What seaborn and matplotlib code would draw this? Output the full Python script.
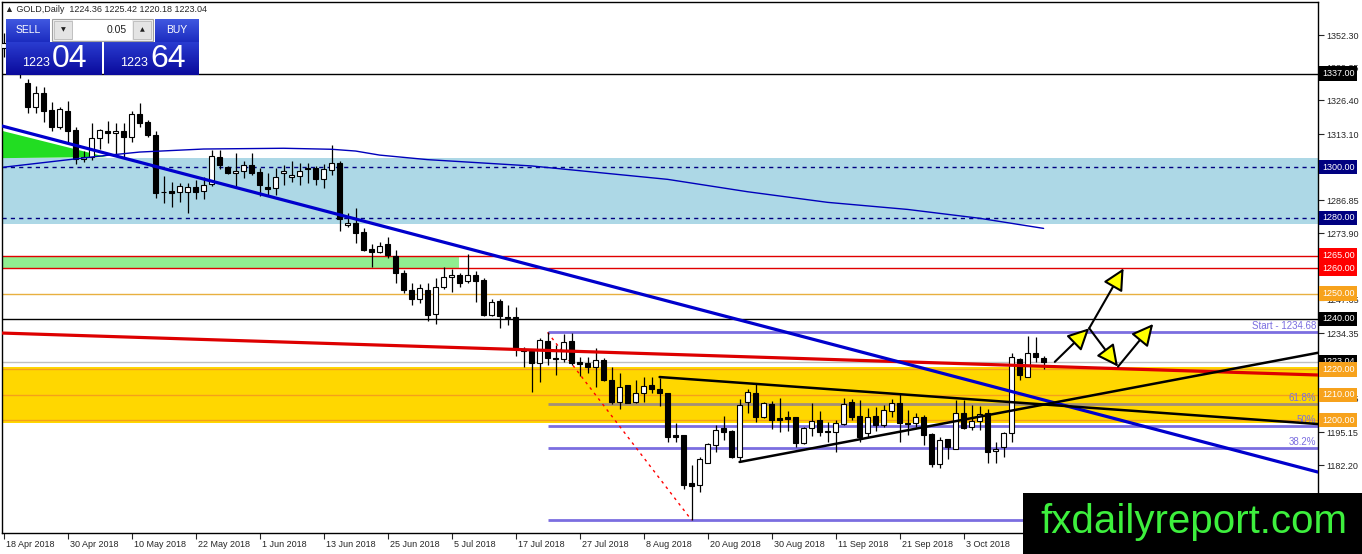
import numpy as np
import pandas as pd
import matplotlib
matplotlib.use("Agg")
import matplotlib.pyplot as plt
import matplotlib.transforms as mtransforms
from matplotlib.patches import Rectangle, Polygon
from matplotlib.colors import LinearSegmentedColormap
import seaborn as sns

W, H = 1362, 554

# daily GOLD candles, one per weekday from 18 Apr 2018 to 17 Oct 2018
opens = [1347.0, 1349.0, 1345.0, 1333.4, 1323.9, 1329.5, 1322.6, 1316.0, 1322.1, 1314.7,
         1303.1, 1303.9, 1311.4, 1314.3, 1313.4, 1314.3, 1312.1, 1321.1, 1318.0, 1312.7,
         1290.1, 1290.6, 1290.3, 1290.3, 1292.3, 1290.7, 1293.4, 1303.9, 1300.0, 1297.6,
         1298.5, 1300.9, 1298.0, 1292.1, 1291.6, 1297.6, 1296.0, 1296.5, 1299.6, 1299.8,
         1295.2, 1298.9, 1301.8, 1277.0, 1277.8, 1274.2, 1267.6, 1266.6, 1269.5, 1264.9,
         1258.3, 1251.4, 1247.8, 1251.4, 1241.8, 1252.5, 1256.5, 1257.4, 1255.1, 1257.4,
         1255.4, 1241.6, 1247.2, 1240.6, 1240.6, 1227.7, 1227.4, 1222.6, 1231.4, 1224.7,
         1224.0, 1231.4, 1222.8, 1222.6, 1221.1, 1223.7, 1215.8, 1207.3, 1213.8, 1207.3,
         1210.8, 1213.8, 1212.1, 1210.6, 1194.0, 1194.1, 1175.0, 1174.3, 1183.1, 1190.1,
         1196.7, 1195.8, 1185.2, 1207.3, 1210.8, 1201.1, 1206.3, 1200.7, 1201.1, 1201.1,
         1191.0, 1196.7, 1200.0, 1195.8, 1195.4, 1198.4, 1207.0, 1201.6, 1194.8, 1201.6,
         1198.0, 1203.7, 1206.9, 1198.7, 1198.7, 1201.1, 1194.5, 1182.6, 1192.4, 1188.4,
         1202.7, 1197.4, 1199.7, 1202.7, 1187.7, 1189.4, 1194.7, 1224.0, 1217.1, 1226.6,
         1224.36]
highs = [1353.0, 1352.0, 1347.5, 1335.0, 1332.1, 1331.9, 1325.9, 1323.7, 1326.3, 1316.0,
         1306.5, 1317.6, 1315.2, 1318.4, 1317.6, 1317.6, 1322.4, 1325.5, 1318.7, 1314.5,
         1296.5, 1294.0, 1293.9, 1293.6, 1294.9, 1296.3, 1306.8, 1306.8, 1300.4, 1305.8,
         1302.6, 1305.8, 1299.6, 1297.6, 1299.6, 1300.9, 1302.6, 1301.5, 1301.8, 1300.5,
         1301.3, 1308.8, 1302.6, 1281.8, 1283.8, 1275.8, 1269.5, 1270.5, 1272.3, 1267.2,
         1259.3, 1254.1, 1253.7, 1254.1, 1256.1, 1260.7, 1259.6, 1258.3, 1265.7, 1259.1,
         1256.0, 1247.8, 1247.8, 1245.5, 1244.6, 1228.8, 1228.0, 1232.3, 1234.68, 1229.7,
         1234.0, 1234.3, 1224.8, 1224.8, 1228.4, 1224.4, 1220.9, 1218.5, 1214.0, 1215.8,
         1217.1, 1217.1, 1216.6, 1210.8, 1198.7, 1194.2, 1182.2, 1185.2, 1191.0, 1198.0,
         1201.6, 1196.0, 1208.2, 1212.1, 1214.2, 1207.2, 1207.6, 1208.6, 1203.7, 1201.3,
         1197.4, 1206.9, 1203.7, 1199.3, 1200.0, 1208.6, 1208.2, 1207.9, 1204.6, 1205.0,
         1205.9, 1208.2, 1210.8, 1203.9, 1202.9, 1202.0, 1195.0, 1193.4, 1192.6, 1207.9,
         1207.9, 1205.9, 1205.5, 1204.2, 1191.4, 1195.4, 1226.4, 1224.5, 1233.2, 1232.9,
         1225.42]
lows = [1343.5, 1341.0, 1335.2, 1321.3, 1321.6, 1318.0, 1314.4, 1315.0, 1310.1, 1301.3,
        1302.0, 1302.9, 1307.1, 1309.7, 1305.2, 1303.9, 1310.1, 1316.0, 1312.1, 1287.7,
        1286.0, 1284.4, 1286.4, 1281.8, 1287.3, 1287.3, 1292.6, 1299.2, 1297.2, 1292.3,
        1295.6, 1297.0, 1288.6, 1289.0, 1289.0, 1293.0, 1294.3, 1293.0, 1293.6, 1293.0,
        1291.6, 1297.0, 1274.9, 1276.5, 1269.9, 1267.0, 1260.6, 1266.2, 1264.0, 1254.3,
        1250.1, 1245.5, 1246.2, 1239.3, 1238.0, 1251.7, 1250.8, 1252.5, 1254.1, 1246.8,
        1241.2, 1241.2, 1236.3, 1237.6, 1225.4, 1220.9, 1211.2, 1215.2, 1221.8, 1217.8,
        1223.1, 1221.8, 1217.4, 1218.7, 1213.2, 1215.6, 1206.3, 1204.2, 1206.6, 1206.6,
        1207.2, 1210.6, 1205.5, 1191.4, 1191.4, 1172.6, 1160.37, 1171.6, 1182.9, 1187.4,
        1192.1, 1184.8, 1183.5, 1202.9, 1199.3, 1200.7, 1196.3, 1195.4, 1195.8, 1189.4,
        1190.5, 1193.7, 1193.7, 1191.4, 1187.4, 1198.0, 1200.0, 1191.4, 1193.2, 1195.8,
        1197.4, 1201.1, 1191.4, 1194.1, 1197.4, 1190.1, 1181.5, 1180.9, 1184.5, 1188.4,
        1196.3, 1196.0, 1196.0, 1183.1, 1183.1, 1185.5, 1191.4, 1215.8, 1217.0, 1223.1,
        1220.18]
closes = [1349.0, 1345.0, 1337.5, 1323.9, 1329.5, 1322.4, 1316.0, 1322.9, 1314.4, 1303.1,
          1304.2, 1311.4, 1314.7, 1313.4, 1314.3, 1312.1, 1321.1, 1317.6, 1312.7, 1289.9,
          1290.0, 1289.9, 1292.6, 1292.3, 1290.3, 1293.0, 1304.4, 1300.9, 1297.6, 1298.5,
          1300.8, 1297.6, 1293.0, 1291.4, 1296.0, 1298.5, 1296.9, 1298.5, 1299.2, 1295.2,
          1299.2, 1301.6, 1279.4, 1277.8, 1274.1, 1267.2, 1266.6, 1269.0, 1265.3, 1258.3,
          1251.4, 1247.8, 1252.3, 1241.6, 1252.5, 1256.5, 1257.4, 1254.3, 1257.4, 1255.1,
          1241.6, 1246.8, 1241.2, 1240.4, 1228.0, 1227.4, 1222.4, 1231.6, 1224.4, 1224.3,
          1231.0, 1222.4, 1222.3, 1221.1, 1223.7, 1215.8, 1207.3, 1213.2, 1206.9, 1210.8,
          1213.4, 1212.1, 1210.8, 1193.4, 1193.4, 1174.3, 1174.0, 1184.5, 1190.5, 1196.0,
          1195.4, 1185.2, 1205.9, 1211.2, 1201.1, 1206.6, 1200.0, 1200.0, 1200.5, 1191.0,
          1196.7, 1199.7, 1195.4, 1195.2, 1198.7, 1206.2, 1201.3, 1193.4, 1201.1, 1198.0,
          1203.9, 1206.9, 1199.0, 1198.4, 1201.1, 1194.1, 1182.6, 1192.1, 1189.4, 1202.7,
          1196.7, 1199.7, 1202.4, 1187.5, 1188.4, 1194.7, 1224.8, 1217.8, 1226.7, 1224.8,
          1223.04]

date_ticks = [0, 8, 16, 24, 32, 40, 48, 56, 64, 72, 80, 88, 96, 104, 112, 120]
date_labels = ['18 Apr 2018', '30 Apr 2018', '10 May 2018', '22 May 2018', '1 Jun 2018',
               '13 Jun 2018', '25 Jun 2018', '5 Jul 2018', '17 Jul 2018', '27 Jul 2018',
               '8 Aug 2018', '20 Aug 2018', '30 Aug 2018', '11 Sep 2018', '21 Sep 2018',
               '3 Oct 2018']

# scale labels that show (the rest sit under the coloured price tags)
price_ticks = [1352.30, 1339.35, 1326.40, 1313.10, 1286.85, 1273.90,
               1247.65, 1234.35, 1208.45, 1195.15, 1182.20, 1169.25]

# slow moving average (thin blue)
ma_bars = [0, 12, 17, 25, 35, 41, 44, 47, 53, 66, 83, 93, 103, 113, 122, 130]
ma_vals = [1300.0, 1304.4, 1306.0, 1307.2, 1307.5, 1307.1, 1306.4, 1304.8, 1303.0,
           1300.5, 1295.2, 1290.3, 1286.1, 1283.3, 1279.8, 1275.8]

# hand drawn trendlines (bar, price)
blue_trend_x, blue_trend_y = [-0.2, 164.3], [1316.3, 1179.4]
red_trend_x, red_trend_y = [-0.2, 164.3], [1234.4, 1217.8]
tri_top_x, tri_top_y = [82, 164.3], [1217.0, 1198.4]
tri_bot_x, tri_bot_y = [92, 164.3], [1183.4, 1226.6]
fib_line_x, fib_line_y = [68, 86], [1234.68, 1160.37]
green_tri_x = [-0.1, -0.1, 12.9]
green_tri_y = [1314.3, 1303.6, 1304.0]

fib_start = 68
fib_levels = [1234.68, 1206.29, 1197.53, 1188.76, 1160.37]
fib_texts = ['Start - 1234.68', '61.8%', '50%', '38.2%', '']

# horizontal levels
h_levels = [1337.0, 1300.0, 1280.0, 1265.0, 1260.0, 1250.0, 1240.0, 1223.04, 1220.0, 1210.0, 1200.0]
h_colors = ['black', '#000080', '#000080', '#e00000', '#e00000', '#e8b040', 'black', '#c0c0c0',
            '#f5a01a', '#f5a01a', '#f5a01a']
h_styles = ['-', '--', '--', '-', '-', '-', '-', '-', '-', '-', '-']
tag_colors = ['black', '#000080', '#000080', '#ff0000', '#ff0000', '#f7a21c', 'black', 'black',
              '#f7a21c', '#f7a21c', '#f7a21c']

# arrows (bar, price)
arr_x0 = [131.4, 135.7, 135.7, 139.3]
arr_y0 = [1223.0, 1236.3, 1236.3, 1221.1]
arr_x1 = [135.7, 140.0, 139.3, 143.7]
arr_y1 = [1236.3, 1260.0, 1221.1, 1238.0]

sns.set_style("white")
plt.rcParams['font.family'] = ['Liberation Sans', 'DejaVu Sans']

fig = plt.figure(figsize=(W / 100, H / 100), dpi=100)
ax = fig.add_axes([2 / W, 1 - 533 / H, 1316 / W, 531 / H])
ax.set_xlim(-0.2, 164.3)
ax.set_ylim(1155.30, 1365.36)

# zones
ax.axhspan(1277.6, 1303.8, color='#add8e6', lw=0, zorder=1)
ax.axhspan(1199.0, 1220.8, color='#ffd700', lw=0, zorder=1)
ax.fill_between([-0.2, 56.9], 1260, 1265, color='#90ee90', lw=0, zorder=1)
ax.add_patch(Polygon(list(zip(green_tri_x, green_tri_y)), closed=True, fc='#22dd22', ec='none', zorder=1.5))

for lv, c, ls in zip(h_levels, h_colors, h_styles):
    ax.axhline(lv, color=c, lw=1, ls=ls, dashes=(3, 3) if ls == '--' else (None, None), zorder=2)

# fibonacci
for lv, t in zip(fib_levels, fib_texts):
    c = '#a39077' if t == '61.8%' else '#7b6ee0'
    ax.hlines(lv, fib_start, 164.3, color=c, lw=2, zorder=2.5)
    if t:
        ax.text(1 - 2 / 1316, lv + 0.6, t, transform=mtransforms.blended_transform_factory(ax.transAxes, ax.transData),
                ha='right', va='bottom', fontsize=7, color='#7b6ee0', zorder=3)
ax.plot(fib_line_x, fib_line_y, color='red', lw=1, ls=(0, (2, 3)), zorder=2.6)

# candles
df = pd.DataFrame({'o': opens, 'h': highs, 'l': lows, 'c': closes})
df['bar'] = np.arange(len(df))
bottoms = df[['o', 'c']].min(axis=1)
heights = (df['c'] - df['o']).abs().clip(lower=0.25)
colors = np.where(df['c'] >= df['o'], 'white', 'black')
ax.vlines(df['bar'], df['l'], df['h'], color='black', lw=0.9, zorder=4)
ax.bar(df['bar'], heights, bottom=bottoms, width=0.6, color=colors, edgecolor='black', lw=0.8, zorder=5)

# moving average and trendlines
sns.lineplot(x=ma_bars, y=ma_vals, color='#0000bb', lw=1, ax=ax, zorder=6)
ax.plot(blue_trend_x, blue_trend_y, color='#0000cc', lw=2.3, zorder=7)
ax.plot(red_trend_x, red_trend_y, color='#dd0000', lw=2.3, zorder=6.5)
ax.plot(tri_top_x, tri_top_y, color='black', lw=1.8, zorder=7)
ax.plot(tri_bot_x, tri_bot_y, color='black', lw=1.8, zorder=7)

for x0, y0, x1, y1 in zip(arr_x0, arr_y0, arr_x1, arr_y1):
    ax.annotate('', xy=(x1, y1), xytext=(x0, y0),
                arrowprops=dict(arrowstyle='-|>,head_length=0.6,head_width=0.3', fc='yellow', ec='black',
                                lw=1.5, mutation_scale=22, shrinkA=0, shrinkB=0), zorder=8)

# axes styling
for s in ax.spines.values():
    s.set_color('black')
    s.set_linewidth(1)
ax.yaxis.tick_right()
ax.set_yticks(price_ticks)
ax.set_yticklabels([f'{v:.2f}' for v in price_ticks])
ax.tick_params(axis='y', right=True, left=False, length=4, width=0.8, pad=2, labelsize=6.5, direction='out')
ax.set_xticks(date_ticks)
ax.set_xticklabels(date_labels)
ax.tick_params(axis='x', bottom=True, length=4, width=0.8, pad=0.8, labelsize=6.5, direction='out')
shift = mtransforms.ScaledTranslation(2 / 72, 0, fig.dpi_scale_trans)
for lab in ax.get_xticklabels():
    lab.set_horizontalalignment('left')
    lab.set_transform(lab.get_transform() + shift)
ax.set_xlabel('')
ax.set_ylabel('')

# price tags on the right scale
tag_tr = mtransforms.blended_transform_factory(ax.transAxes, ax.transData)
for lv, c in zip(h_levels, tag_colors):
    ax.text(1 + 4 / 1316, lv, f'{lv:.2f}', transform=tag_tr, ha='left', va='center', fontsize=6.5,
            color='white', clip_on=False, zorder=20,
            bbox=dict(boxstyle='square,pad=0.3', fc=c, ec='none'))


# trading panel (figure pixel coordinates, origin top-left)
def box(x0, y0, x1, y1, **kw):
    fig.add_artist(Rectangle((x0 / W, 1 - y1 / H), (x1 - x0) / W, (y1 - y0) / H,
                             transform=fig.transFigure, **kw))


def grad_box(x0, y0, x1, y1, c_top, c_bot):
    gax = fig.add_axes([x0 / W, 1 - y1 / H, (x1 - x0) / W, (y1 - y0) / H], zorder=5)
    cmap = LinearSegmentedColormap.from_list('g', [c_top, c_bot])
    gax.imshow(np.linspace(0, 1, 40)[:, None], cmap=cmap, aspect='auto')
    gax.axis('off')


def ptext(x, y, s, **kw):
    fig.text(x / W, 1 - y / H, s, zorder=30, **kw)


ptext(5, 9, '\u25b2 GOLD,Daily  1224.36 1225.42 1220.18 1223.04', fontsize=6.5, va='center', ha='left',
      family=['Liberation Sans', 'DejaVu Sans'])
grad_box(6, 19, 50, 42, '#4058e0', '#1c2cc0')
grad_box(155, 19, 199, 42, '#4058e0', '#1c2cc0')
grad_box(6, 42, 101, 75, '#2a3cd0', '#0a0a9c')
grad_box(104, 42, 199, 75, '#2a3cd0', '#0a0a9c')
box(52, 19, 153, 41, fc='#f0f0f0', ec='#a0a0a0', lw=0.8, zorder=6)
box(73, 20, 132, 40, fc='white', ec='none', zorder=7)
box(54, 21, 72, 39, fc='#e4e4e4', ec='#b0b0b0', lw=0.5, zorder=7)
box(133, 21, 151, 39, fc='#e4e4e4', ec='#b0b0b0', lw=0.5, zorder=7)
ptext(28, 30, 'SELL', fontsize=7.5, color='white', ha='center', va='center')
ptext(177, 30, 'BUY', fontsize=7.5, color='white', ha='center', va='center')
ptext(63, 30, '\u25bc', fontsize=4.5, color='#202020', ha='center', va='center', family=['DejaVu Sans'])
ptext(142, 30, '\u25b2', fontsize=4.5, color='#202020', ha='center', va='center', family=['DejaVu Sans'])
ptext(127, 30, '0.05', fontsize=7.5, color='#202020', ha='right', va='center')
ptext(22, 63, '1223', fontsize=9, color='white', ha='left', va='center')
ptext(52, 59, '04', fontsize=23, color='white', ha='left', va='center')
ptext(120, 63, '1223', fontsize=9, color='white', ha='left', va='center')
ptext(150, 59, '64', fontsize=23, color='white', ha='left', va='center')

# watermark
box(1023, 493, 1362, 554, fc='black', ec='none', zorder=25)
ptext(1040, 522, 'fxdailyreport.com', fontsize=29, color='#3df03d', ha='left', va='center')

fig.savefig('out.png', dpi=100)
